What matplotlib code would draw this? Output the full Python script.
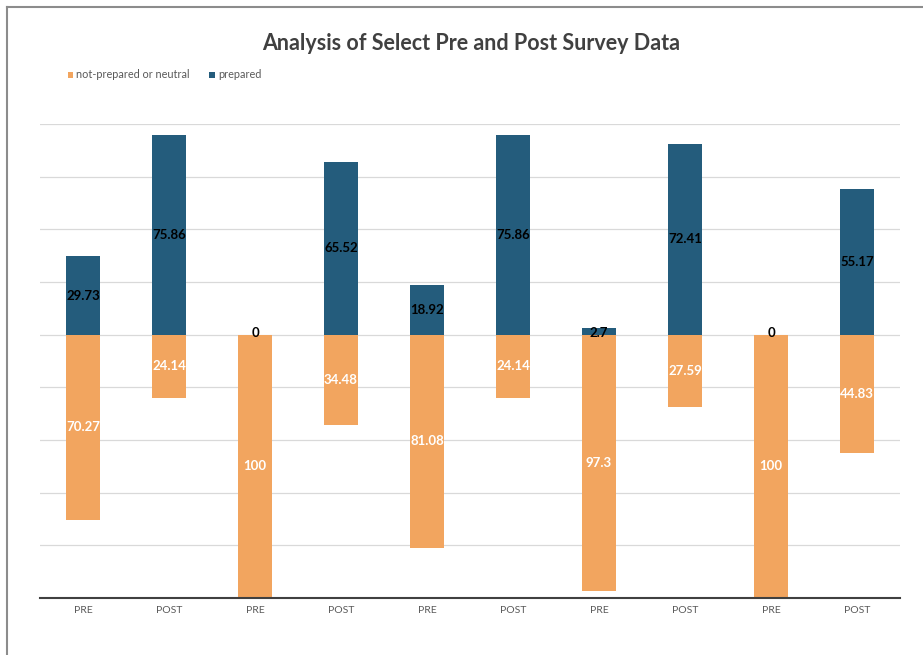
import numpy as np
import matplotlib.pyplot as plt
from matplotlib.lines import Line2D

categories = ['PRE', 'POST', 'PRE', 'POST', 'PRE', 'POST', 'PRE', 'POST', 'PRE', 'POST']
prepared = [29.73, 75.86, 0, 65.52, 18.92, 75.86, 2.7, 72.41, 0, 55.17]
not_prepared = [70.27, 24.14, 100, 34.48, 81.08, 24.14, 97.3, 27.59, 100, 44.83]

BLUE = '#245c7c'
ORANGE = '#f2a55f'

plt.rcParams['font.family'] = ['Lato', 'DejaVu Sans']

fig = plt.figure(figsize=(9.23, 6.55), dpi=100)
ax = fig.add_axes([40 / 923, 1 - 598 / 655, 860 / 923, (598 - 124) / 655])

x = np.arange(len(categories))
neg = [-v for v in not_prepared]
b_not = ax.bar(x, neg, width=0.4, color=ORANGE, label='not-prepared or neutral', zorder=2)
b_prep = ax.bar(x, prepared, width=0.4, color=BLUE, label='prepared', zorder=2)

# value labels
for i in x:
    p = prepared[i]
    n = not_prepared[i]
    ax.text(i, p / 2 if p > 5 else 0.5, f'{p:g}', ha='center', va='center',
            fontsize=9.5, fontweight='bold', color='black', zorder=3)
    ax.text(i, -n / 2, f'{n:g}', ha='center', va='center',
            fontsize=9.5, fontweight='bold', color='white', zorder=3)

ax.set_xlim(-0.5, 9.5)
ax.set_ylim(-100, 80)
ax.set_yticks(np.arange(-80, 81, 20))
ax.set_yticklabels([])
ax.tick_params(axis='y', length=0)
ax.tick_params(axis='x', length=0, labelsize=7.5, labelcolor='#595959', pad=6)
ax.set_xticks(x)
ax.set_xticklabels(categories)
ax.grid(axis='y', color='#d9d9d9', linewidth=0.9, zorder=0)
for s in ['top', 'right', 'left']:
    ax.spines[s].set_visible(False)
ax.spines['bottom'].set_color('#404040')
ax.spines['bottom'].set_linewidth(1.5)

fig.text(471 / 923, 1 - 43 / 655, 'Analysis of Select Pre and Post Survey Data',
         ha='center', va='center', fontsize=15.5, fontweight='bold', color='#404040')

fig.legend(handles=[b_not, b_prep], loc='center left', bbox_to_anchor=(58 / 923, 1 - 75 / 655),
           ncol=2, frameon=False, fontsize=7.8, handlelength=0.5, handleheight=0.5,
           handletextpad=0.3, columnspacing=1.8, labelcolor='#595959')

# outer frame (left and top edges only are visible in the reference)
fig.add_artist(Line2D([7 / 923, 7 / 923], [0, 1 - 7 / 655], transform=fig.transFigure,
                      color='#8c8c8c', linewidth=1.5))
fig.add_artist(Line2D([7 / 923, 1], [1 - 7 / 655, 1 - 7 / 655], transform=fig.transFigure,
                      color='#8c8c8c', linewidth=1.5))

fig.savefig('out.png', dpi=100)
